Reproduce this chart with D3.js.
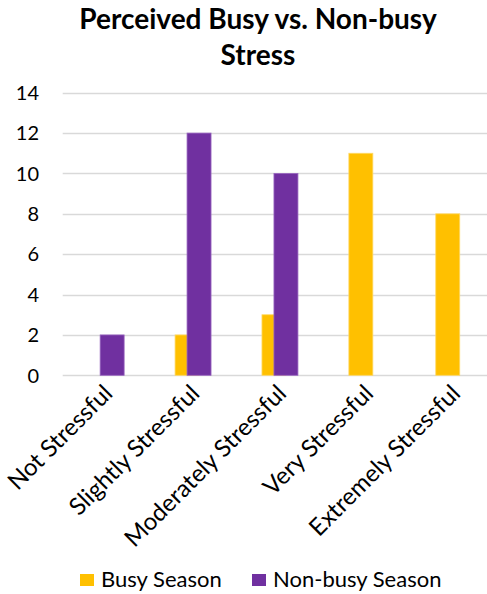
<!DOCTYPE html>
<html><head><meta charset="utf-8">
<script src="https://cdn.jsdelivr.net/npm/d3@7"></script>
<style>body{margin:0;background:#fff}svg{display:block}text{font-family:Lato,"Open Sans",sans-serif}</style>
</head><body><svg id="c" width="487" height="594"></svg>
<script>
const categories = ["Not Stressful","Slightly Stressful","Moderately Stressful","Very Stressful","Extremely Stressful"];
const busySeason = [0,2,3,11,8];
const nonBusySeason = [2,12,10,0,0];
const seriesNames = ["Busy Season","Non-busy Season"];
const seriesColors = ["#FFC000","#7030A0"];
const yTicks = [0,2,4,6,8,10,12,14];
const titleLines = ["Perceived Busy vs. Non-busy","Stress"];

const svg = d3.select("#c");
const x = d3.scaleBand().domain(categories).range([62.7, 497.2]);
const y = d3.scaleLinear().domain([0,14]).range([375.3, 92.7]);
const bw = x.bandwidth()*0.276;

svg.append("g").selectAll("line").data(yTicks).join("line")
  .attr("x1",62.7).attr("x2",487).attr("y1",d=>Math.round(y(d))+0.5).attr("y2",d=>Math.round(y(d))+0.5)
  .attr("stroke","#d9d9d9").attr("stroke-width",1.3);

svg.append("g").selectAll("text").data(yTicks).join("text")
  .attr("x",39).attr("y",d=>y(d)).attr("dy","0.36em").attr("text-anchor","end")
  .attr("font-size",20).attr("fill","#000").text(d=>d);

const series = [busySeason, nonBusySeason];
series.forEach((vals,si)=>{
  svg.append("g").selectAll("rect").data(categories).join("rect")
    .attr("x",(c)=>x(c)+x.bandwidth()/2 - 0.75*bw + si*bw*0.5)
    .attr("width",bw)
    .attr("y",(c,i)=>y(vals[i]))
    .attr("height",(c,i)=>y(0)-y(vals[i]))
    .attr("fill",seriesColors[si])
    .attr("stroke",si===0?"#ffd966":"#9966c0").attr("stroke-width",0.8)
    .attr("display",(c,i)=>vals[i]===0?"none":null);
});

svg.append("g").selectAll("text").data(categories).join("text")
  .attr("transform",c=>`translate(${x(c)+x.bandwidth()/2-4},${383}) rotate(-45)`)
  .attr("text-anchor","end").attr("dy","0.7em")
  .attr("font-size",24).attr("fill","#000").text(c=>c);

svg.append("g").selectAll("text").data(titleLines).join("text")
  .attr("x",258).attr("y",(d,i)=>29+i*36).attr("text-anchor","middle")
  .attr("font-size",28).attr("font-weight","bold").attr("fill","#000").text(d=>d);

const lg = svg.append("g");
const lx = [80,252];
seriesNames.forEach((n,i)=>{
  lg.append("rect").attr("x",lx[i]).attr("y",574).attr("width",14).attr("height",12).attr("fill",seriesColors[i]);
  lg.append("text").attr("x",lx[i]+21).attr("y",587).attr("font-size",22).attr("fill","#000").text(n);
});
</script></body></html>
